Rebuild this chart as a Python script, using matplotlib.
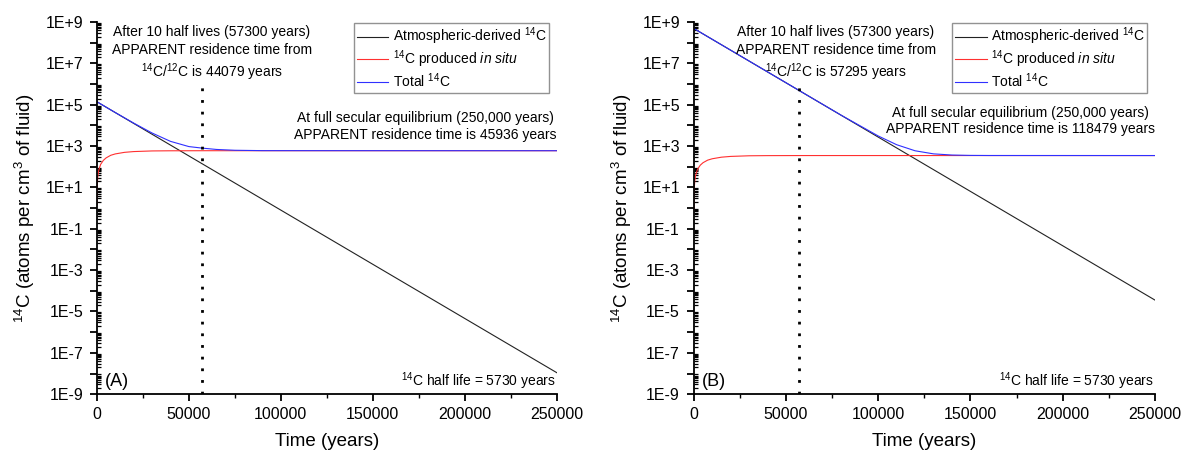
import matplotlib
matplotlib.use("Agg")
import matplotlib.pyplot as plt
from matplotlib.ticker import FixedLocator, FuncFormatter, LogLocator, MultipleLocator
import numpy as np

plt.rcParams['font.family'] = ['Liberation Sans', 'DejaVu Sans']
plt.rcParams['mathtext.fontset'] = 'custom'
plt.rcParams['mathtext.rm'] = 'Liberation Sans'
plt.rcParams['mathtext.it'] = 'Liberation Sans:italic'
plt.rcParams['mathtext.bf'] = 'Liberation Sans:bold'

# ---------------- data ----------------
atm_t = [0, 250000]
atm_A = [1.4e5, 1.1e-8]
atm_B = [4.9e8, 3.6e-5]

insitu_t = [20, 100, 200, 500, 1000, 2000, 3500, 5000, 7500, 10000, 15000,
            20000, 30000, 40000, 60000, 250000]
insitu_A = [1.5, 7, 14, 35, 68, 130, 205, 270, 360, 420, 500,
            545, 585, 595, 600, 600]
insitu_B = [0.8, 4.1, 8.2, 20, 40, 76, 120, 158, 210, 245, 292,
            318, 341, 347, 350, 350]

total_t_A = [0, 10000, 20000, 30000, 40000, 50000, 57300, 65000, 75000, 90000, 250000]
total_A = [1.4e5, 4.2e4, 1.3e4, 4.3e3, 1.7e3, 950, 800, 690, 630, 605, 600]

total_t_B = [0, 57300, 80000, 100000, 110000, 120000, 130000, 140000, 150000, 160000, 250000]
total_B = [4.9e8, 4.8e5, 3.1e4, 3.1e3, 1.17e3, 595, 422, 371, 356, 352, 350]

half_life_marker = 57300
panel_labels = ['(A)', '(B)']
apparent_10hl = [44079, 57295]
apparent_eq = [45936, 118479]
xticks = [0, 50000, 100000, 150000, 200000, 250000]

# ---------------- figure ----------------
fig = plt.figure(figsize=(11.82, 4.51), dpi=100)
positions = [[0.082, 0.126, 0.389, 0.825], [0.587, 0.126, 0.390, 0.825]]

panels = [
    (atm_A, insitu_A, total_t_A, total_A),
    (atm_B, insitu_B, total_t_B, total_B),
]

hl_text_x = [62500, 77000]
eq_text_y = [4.9e4, 9.0e4]

for i, (atm, ins, tt, tot) in enumerate(panels):
    ax = fig.add_axes(positions[i])
    ax.plot(atm_t, atm, color='#222222', lw=0.8, label='Atmospheric-derived $^{14}$C')
    ax.plot(insitu_t, ins, color='#ff3030', lw=0.8, label='$^{14}$C produced $\\it{in\\ situ}$')
    ax.plot(tt, tot, color='#3030ff', lw=0.8, label='Total $^{14}$C')
    ax.plot([half_life_marker, half_life_marker], [1e-9, 1.7e6], color='black',
            lw=2.0, linestyle=(0, (1, 3.2)))

    ax.set_yscale('log')
    ax.set_xlim(0, 250000)
    ax.set_ylim(1e-9, 1e9)

    ax.spines['top'].set_visible(False)
    ax.spines['right'].set_visible(False)
    ax.spines['left'].set_linewidth(1.3)
    ax.spines['bottom'].set_linewidth(1.3)

    ax.yaxis.set_major_locator(FixedLocator([10.0 ** k for k in range(-9, 10)]))
    ax.yaxis.set_major_formatter(FuncFormatter(
        lambda v, p: ('1E%+d' % int(round(np.log10(v)))) if int(round(np.log10(v))) % 2 else ''))
    ax.yaxis.set_minor_locator(LogLocator(base=10, subs=np.arange(2, 10), numticks=40))
    ax.yaxis.set_minor_formatter(FuncFormatter(lambda v, p: ''))
    ax.tick_params(axis='y', which='major', direction='out', length=5, width=1.3, labelsize=11.5, pad=5)
    ax.tick_params(axis='y', which='minor', direction='in', length=3, width=0.9)

    ax.set_xticks(xticks)
    ax.set_xticklabels([str(v) for v in xticks])
    ax.xaxis.set_minor_locator(MultipleLocator(25000))
    ax.tick_params(axis='x', which='major', direction='out', length=5, width=1.3, labelsize=11.5, pad=4)
    ax.tick_params(axis='x', which='minor', direction='out', length=3, width=1.0)

    ax.set_xlabel('Time (years)', fontsize=13.5, labelpad=8)
    ax.set_ylabel('$^{14}$C (atoms per cm$^{3}$ of fluid)', fontsize=13.5, labelpad=6)

    ax.text(hl_text_x[i], 7e8,
            'After 10 half lives (57300 years)\nAPPARENT residence time from\n'
            '$^{14}$C/$^{12}$C is %d years' % apparent_10hl[i],
            ha='center', va='top', fontsize=10, linespacing=1.3)
    ax.text(250000, eq_text_y[i],
            'At full secular equilibrium (250,000 years)\nAPPARENT residence time is %d years' % apparent_eq[i],
            ha='right', va='top', multialignment='center', fontsize=10, linespacing=1.25)
    ax.text(249500, 1.3e-9, '$^{14}$C half life = 5730 years', ha='right', va='bottom', fontsize=10)
    ax.text(4500, 1.6e-9, panel_labels[i], ha='left', va='bottom', fontsize=13)

    leg = ax.legend(loc='upper right', bbox_to_anchor=(0.99, 1.005), fontsize=10,
                    frameon=True, fancybox=False, handlelength=2.3, handletextpad=0.3,
                    borderpad=0.2, labelspacing=0.08, borderaxespad=0.2)
    leg.get_frame().set_edgecolor('#777777')
    leg.get_frame().set_linewidth(1.0)

fig.savefig('out.png', dpi=100)
